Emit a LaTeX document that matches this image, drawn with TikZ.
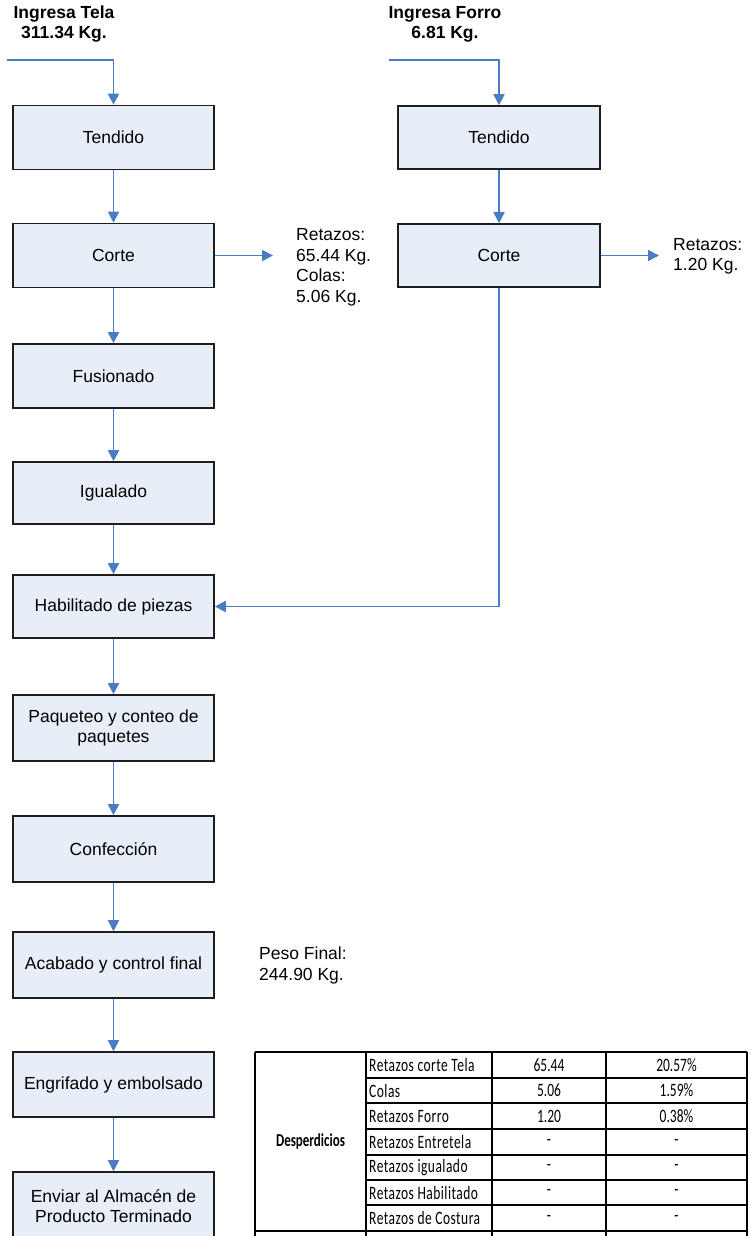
\documentclass[tikz,border=0pt]{standalone}
\usepackage{fontspec}
\usepackage{graphicx}
\setmainfont{Liberation Sans}
\newfontfamily\tablefont{Carlito}
\newfontfamily\tablewide{Carlito}[LetterSpace=3.5]
\usetikzlibrary{arrows.meta}

\definecolor{boxfill}{RGB}{232,238,248}
\definecolor{flow}{RGB}{74,124,196}
\definecolor{boxline}{RGB}{30,30,30}

% table text is drawn slightly taller than wide
\newcommand{\tallcell}[1]{\scalebox{1}[1.4]{#1}}

\tikzset{
  stepbox/.style={draw=boxline, line width=1.6pt, fill=boxfill,
    minimum width=201pt, minimum height=64pt, align=center, inner sep=0pt,
    font=\fontsize{17.5}{20.5}\selectfont},
  flowarrow/.style={draw=flow, line width=1.8pt, -{Triangle[length=11pt,width=11pt]}},
  title/.style={font=\bfseries\fontsize{17.5}{20}\selectfont, align=center, inner sep=0pt},
  note/.style={font=\fontsize{17.5}{20.5}\selectfont, align=left, anchor=west, inner sep=0pt},
  grid/.style={line width=1.9pt, draw=black},
  cell/.style={font=\tablefont\fontsize{13.5}{16}\selectfont, inner sep=0pt},
  rowname/.style={font=\tablewide\fontsize{13.5}{16}\selectfont, inner sep=0pt, anchor=west},
}

\begin{document}
\begin{tikzpicture}[x=1pt, y=-1pt]
\useasboundingbox (0,0) rectangle (751,1236);

% ---------- titles ----------
\node[title] (inTela)  at (64,24)  {Ingresa Tela\\311.34 Kg.};
\node[title] (inForro) at (445,24) {Ingresa Forro\\6.81 Kg.};

% ---------- main process column ----------
\node[stepbox] (tendL) at (113.5,137.5) {Tendido};
\node[stepbox] (corteL) at (113.5,255.5) {Corte};
\node[stepbox] (fusion) at (113.5,376) {Fusionado};
\node[stepbox, minimum height=62pt] (igual) at (113.5,493) {Igualado};
\node[stepbox, minimum height=63pt] (habil) at (113.5,606.5) {Habilitado de piezas};
\node[stepbox, minimum height=66pt] (paquet) at (113.5,728) {Paqueteo y conteo de\\paquetes};
\node[stepbox, minimum height=66pt] (confec) at (113.5,849) {Confección};
\node[stepbox, minimum height=66pt] (acab) at (113.5,965) {Acabado y control final};
\node[stepbox, minimum height=65pt] (engrif) at (113.5,1084.5) {Engrifado y embolsado};
\node[stepbox, minimum height=68pt] (enviar) at (113.5,1206) {Enviar al Almacén de\\Producto Terminado};

% ---------- lining column ----------
\node[stepbox, minimum width=202pt, minimum height=63pt] (tendR) at (499,137.5) {Tendido};
\node[stepbox, minimum width=202pt, minimum height=63pt] (corteR) at (499,255.5) {Corte};

% ---------- side notes ----------
\node[note] (retL) at (296,267.5) {Retazos:\\65.44 Kg.\\Colas:\\5.06 Kg.};
\node[note] (retR) at (673,256.5) {Retazos:\\1.20 Kg.};
\node[note] (peso) at (259,965.5) {Peso Final:\\244.90 Kg.};

% ---------- connectors ----------
\coordinate (srcL) at (7,60);
\coordinate (srcR) at (389,60);
\coordinate (outL) at (273,255.5);
\coordinate (outR) at (659,255.5);

\draw[flowarrow] (srcL) -| (tendL.north);
\draw[flowarrow] (srcR) -| (tendR.north);
\draw[flowarrow] (tendL) -- (corteL);
\draw[flowarrow] (tendR) -- (corteR);
\draw[flowarrow] (corteL.east) -- (outL);
\draw[flowarrow] (corteR.east) -- (outR);
\draw[flowarrow] (corteL) -- (fusion);
\draw[flowarrow] (fusion) -- (igual);
\draw[flowarrow] (igual) -- (habil);
\draw[flowarrow] (corteR.south) |- (habil.east);
\draw[flowarrow] (habil) -- (paquet);
\draw[flowarrow] (paquet) -- (confec);
\draw[flowarrow] (confec) -- (acab);
\draw[flowarrow] (acab) -- (engrif);
\draw[flowarrow] (engrif) -- (enviar);

% ---------- waste table ----------
\draw[grid] (255,1052) -- (747,1052);
\foreach \x in {255,366,492,606,747}
  \draw[grid] (\x,1052) -- (\x,1240);
\foreach \y in {1078,1103,1129,1155,1180,1205}
  \draw[grid] (366,\y) -- (747,\y);
\draw[grid] (255,1231) -- (747,1231);

\node[cell, font=\tablefont\bfseries\fontsize{13}{16}\selectfont] (desp) at (310.5,1141.5) {\tallcell{Desperdicios}};

\node[rowname] (r1) at (369,1065)   {\tallcell{Retazos corte Tela}};
\node[rowname] (r2) at (369,1090.5) {\tallcell{Colas}};
\node[rowname] (r3) at (369,1116)   {\tallcell{Retazos Forro}};
\node[rowname] (r4) at (369,1142)   {\tallcell{Retazos Entretela}};
\node[rowname] (r5) at (369,1167.5) {\tallcell{Retazos igualado}};
\node[rowname] (r6) at (369,1192.5) {\tallcell{Retazos Habilitado}};
\node[rowname] (r7) at (369,1218)   {\tallcell{Retazos de Costura}};

\node[cell] (k1) at (549,1065)   {\tallcell{65.44}};
\node[cell] (k2) at (549,1090.5) {\tallcell{5.06}};
\node[cell] (k3) at (549,1116)   {\tallcell{1.20}};
\node[cell] (k4) at (549,1142)   {\tallcell{-}};
\node[cell] (k5) at (549,1167.5) {\tallcell{-}};
\node[cell] (k6) at (549,1192.5) {\tallcell{-}};
\node[cell] (k7) at (549,1218)   {\tallcell{-}};

\node[cell] (p1) at (676.5,1065)   {\tallcell{20.57\%}};
\node[cell] (p2) at (676.5,1090.5) {\tallcell{1.59\%}};
\node[cell] (p3) at (676.5,1116)   {\tallcell{0.38\%}};
\node[cell] (p4) at (676.5,1142)   {\tallcell{-}};
\node[cell] (p5) at (676.5,1167.5) {\tallcell{-}};
\node[cell] (p6) at (676.5,1192.5) {\tallcell{-}};
\node[cell] (p7) at (676.5,1218)   {\tallcell{-}};
\end{tikzpicture}
\end{document}
